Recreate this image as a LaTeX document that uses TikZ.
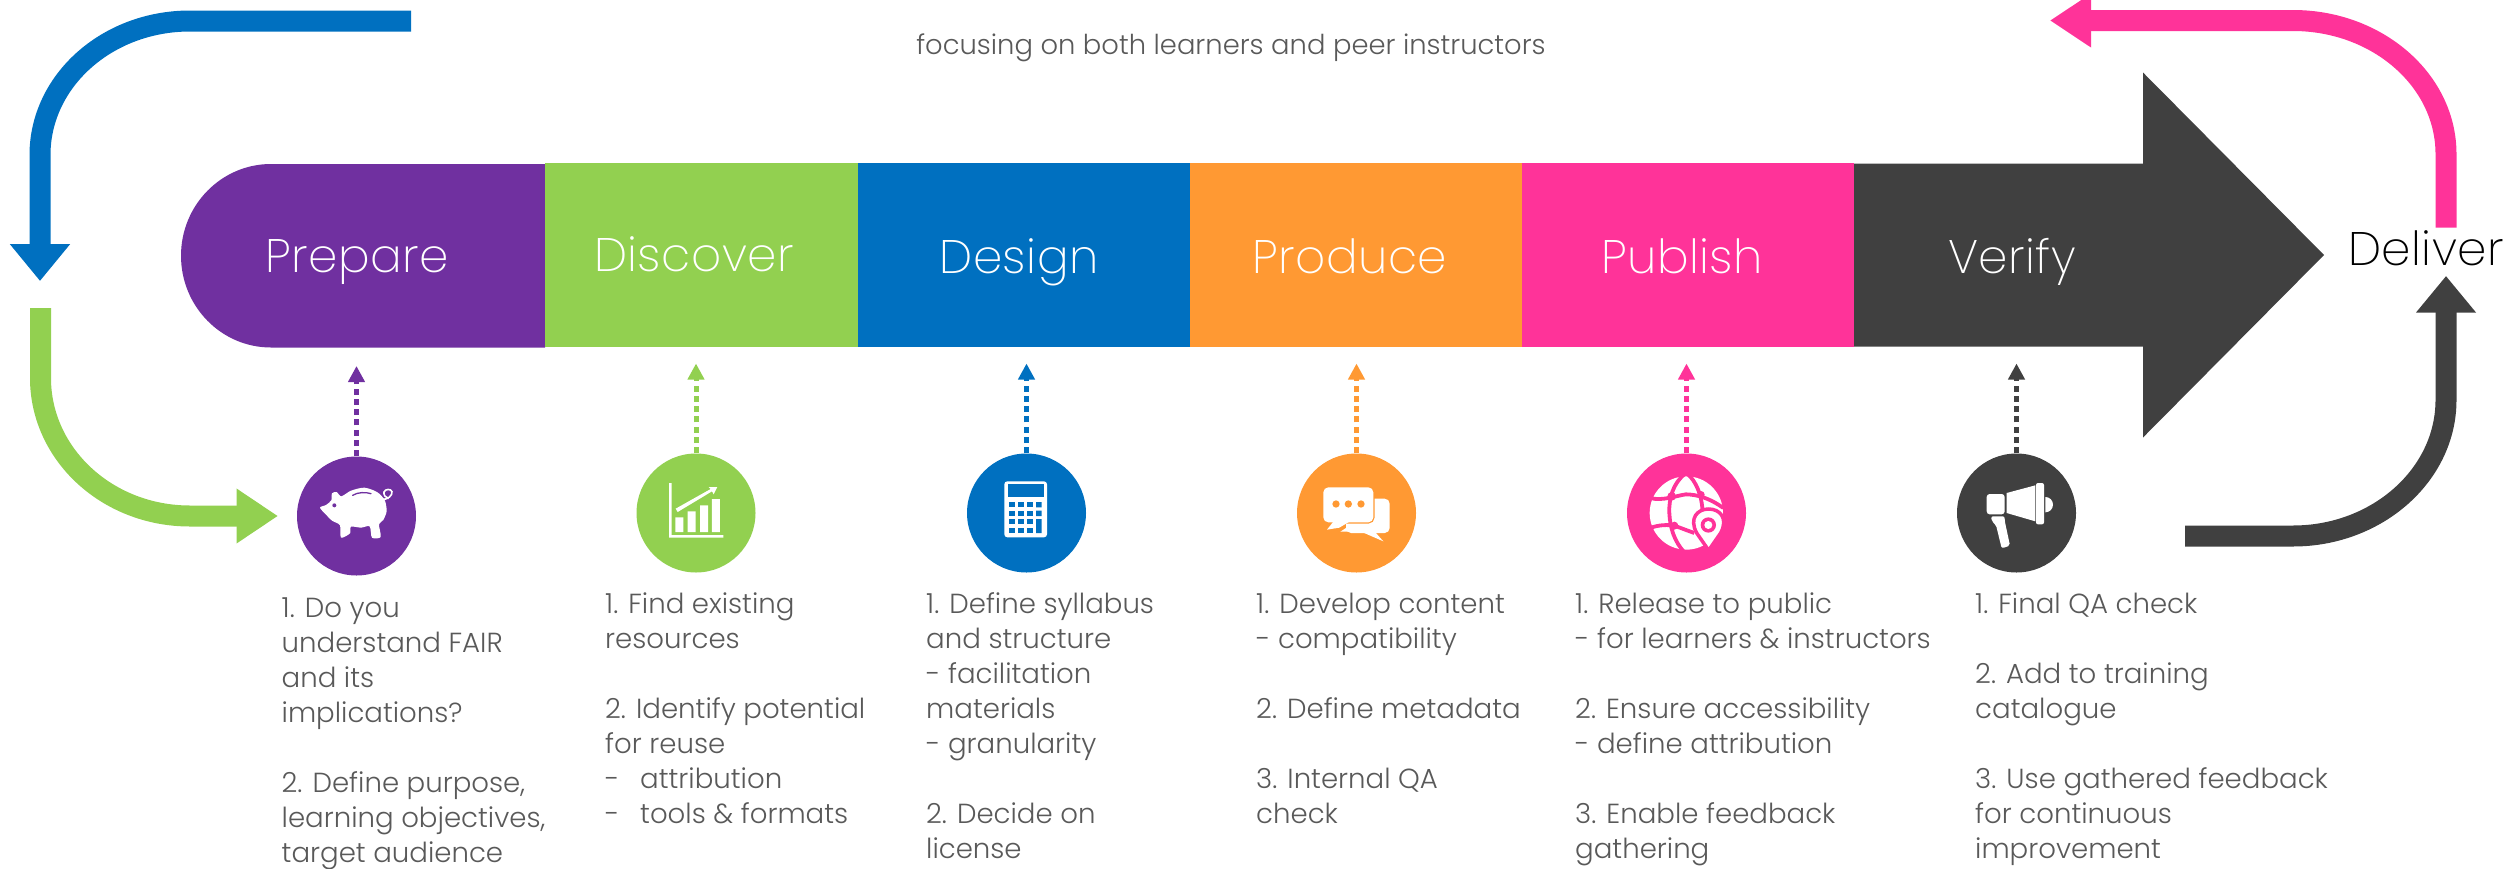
\documentclass[tikz,border=0pt]{standalone}
\usepackage{fontspec}
\setmainfont{Poppins Light}
\newfontfamily\labfont[LetterSpace=1]{Poppins ExtraLight}
\usetikzlibrary{arrows.meta}
\definecolor{cPurple}{HTML}{7030A0}
\definecolor{cGreen}{HTML}{92D050}
\definecolor{cBlue}{HTML}{0070C0}
\definecolor{cOrange}{HTML}{FF9933}
\definecolor{cPink}{HTML}{FF3399}
\definecolor{cDark}{HTML}{404040}
\definecolor{cText}{HTML}{595959}
\tikzset{
  seg/.style={rectangle,inner sep=0pt,minimum height=184pt,anchor=west},
  lab/.style={anchor=base,inner sep=0pt,text=white,font=\fontsize{47}{50}\labfont},
  disc/.style={circle,inner sep=0pt,minimum size=119pt},
  dotarrow/.style={line width=5pt,dash pattern=on 6pt off 4.3pt,-{Triangle[length=16pt,width=16pt]}},
  bigarrow/.style={line width=21pt},
  body/.style={anchor=base west,inner sep=0pt,text=cText},
  zoomed/.style={x=0.3333pt,y=-0.3333pt},
}
\newcommand{\bodytext}[1]{\parbox[t]{420pt}{\fontsize{27.6}{35.1}\selectfont\raggedright\strut #1}}
\newcommand{\gap}{\\[35.1pt]}
\begin{document}
\begin{tikzpicture}[x=1pt,y=-1pt]
\useasboundingbox (0,0) rectangle (2512,868);
% band
\fill[cPurple] (545,164) -- (271,164) arc[start angle=90,end angle=270,x radius=90,y radius=-91.75] -- (545,347.5) -- cycle;
\node[seg,fill=cGreen]  (sDiscover) at (545,255) [minimum width=313pt] {};
\node[seg,fill=cBlue]   (sDesign)   at (858,255) [minimum width=332pt] {};
\node[seg,fill=cOrange] (sProduce)  at (1190,255) [minimum width=332pt] {};
\node[seg,fill=cPink]   (sPublish)  at (1522,255) [minimum width=332pt] {};
\fill[cDark] (1854,163.5) -- (2143,163.5) -- (2143,72.5) -- (2324,255) -- (2143,437.5) -- (2143,346.5) -- (1854,346.5) -- cycle;
\node[lab] (lPrepare) at (357,272) {Prepare};
\node[lab] (lDiscover) at (694,271) {Discover};
\node[lab] (lDesign) at (1019,273) {Design};
\node[lab] (lProduce) at (1350,273) {Produce};
\node[lab] (lPublish) at (1682,273) {Publish};
\node[lab] (lVerify) at (2012,273) {Verify};
\node[lab,text=black] (lDeliver) at (2426,265) {Deliver};
\node[anchor=base,inner sep=0pt,text=cText,font=\fontsize{27.4}{30}\selectfont] (lTop) at (1231,54) {focusing on both learners and peer instructors};
% cycle arrows
\coordinate (bS) at (411,21); \coordinate (b1) at (190,21); \coordinate (b2) at (40,155); \coordinate (bE) at (40,281);
\draw[cBlue,bigarrow,-{Triangle[length=37pt,width=58pt]}] (bS) -- (b1) .. controls (107,21) and (40,81) .. (b2) -- (bE);
\coordinate (gS) at (40.5,308); \coordinate (g1) at (40.5,378); \coordinate (g2) at (190,516); \coordinate (gE) at (278,516);
\draw[cGreen,bigarrow,-{Triangle[length=41.5pt,width=52pt]}] (gS) -- (g1) .. controls (40.5,454) and (107,516) .. (g2) -- (gE);
\coordinate (pS) at (2446,227.5); \coordinate (p1) at (2446,154); \coordinate (p2) at (2293,20.5); \coordinate (pE) at (2050,20.5);
\draw[cPink,bigarrow,-{Triangle[length=41pt,width=51pt]}] (pS) -- (p1) .. controls (2446,80) and (2377,20.5) .. (p2) -- (pE);
\coordinate (dS) at (2185,536); \coordinate (d1) at (2293,536); \coordinate (d2) at (2446,400); \coordinate (dE) at (2446,276);
\draw[cDark,bigarrow,-{Triangle[length=36.5pt,width=57.5pt]}] (dS) -- (d1) .. controls (2377,536) and (2446,475) .. (d2) -- (dE);
% discs
\node[disc,fill=cPurple] (c1) at (356.5,516) {};
\node[disc,fill=cGreen]  (c2) at (696,513) {};
\node[disc,fill=cBlue]   (c3) at (1026.5,513) {};
\node[disc,fill=cOrange] (c4) at (1356.5,513) {};
\node[disc,fill=cPink]   (c5) at (1686.5,513) {};
\node[disc,fill=cDark]   (c6) at (2016.5,513) {};
% dotted
\coordinate (t1) at (356.5,366); \coordinate (t2) at (696,363.5); \coordinate (t3) at (1026.5,363.5);
\coordinate (t4) at (1356.5,363.5); \coordinate (t5) at (1686.5,363.5); \coordinate (t6) at (2016.5,363.5);
\draw[dotarrow,cPurple] (c1.north) -- (t1);
\draw[dotarrow,cGreen]  (c2.north) -- (t2);
\draw[dotarrow,cBlue]   (c3.north) -- (t3);
\draw[dotarrow,cOrange] (c4.north) -- (t4);
\draw[dotarrow,cPink]   (c5.north) -- (t5);
\draw[dotarrow,cDark]   (c6.north) -- (t6);
% pig
\begin{scope}[shift={(296,456)},zoomed]
\fill[white] plot[smooth cycle,tension=.45] coordinates {(72,155) (90,147) (106,133) (108,112) (122,108) (136,121) (165,104) (205,95) (243,108) (266,132) (272,165) (262,192) (249,205) (254,243) (228,245) (221,211) (195,215) (165,212) (162,232) (135,245) (132,208) (108,194) (92,178)};
\draw[cPurple,line width=1.3pt,line cap=round] (170,118) .. controls (185,108) and (210,108) .. (225,113);
\fill[cPurple] (115,148) circle[radius=6];
\draw[white,line width=1.6pt] (258,130) .. controls (275,132) and (290,118) .. (288,107) .. controls (285,98) and (268,98) .. (264,108) .. controls (262,118) and (270,125) .. (278,128);
\end{scope}
% chart
\begin{scope}[shift={(636,453)},zoomed]
\fill[white] (99,90) rectangle (107,254) (99,246) rectangle (262,254);
\fill[white] (118,193) rectangle (142,237) (155,175) rectangle (179,237) (192,157) rectangle (216,237) (228,138) rectangle (252,237);
\fill[white] (119,167) -- (224,108) -- (218,102) -- (244,102) -- (233,124) -- (228,115) -- (125,177) -- cycle;
\end{scope}
% calculator
\begin{scope}[shift={(966,453)},zoomed]
\fill[white,rounded corners=3pt] (115,85) rectangle (243,253);
\fill[cBlue] (126,93) rectangle (233,131);
\foreach \xa in {129,156,183}{\foreach \ya in {147,173,198,224}{\fill[cBlue] (\xa,\ya) rectangle ++(17,16);}}
\fill[cBlue] (210,147) rectangle ++(17,16) (210,173) rectangle ++(17,16) (210,198) rectangle (227,240);
\end{scope}
% chat
\begin{scope}[shift={(1296,453)},zoomed]
\fill[white,rounded corners=5pt] (150,137) rectangle (281,240);
\fill[white] (133,236) -- (170,212) -- (240,236) -- cycle;
\fill[white] (200,238) -- (262,265) -- (238,238) -- cycle;
\fill[white,draw=cOrange,line width=2.5pt,rounded corners=5pt] (82,103) rectangle (232,208);
\fill[white] (112,206) -- (93,230) -- (130,224) -- (162,205) -- cycle;
\fill[white,rounded corners=5pt] (82,103) rectangle (232,208);
\foreach \xa in {120,157,195}{\fill[cOrange] (\xa,153) circle[radius=11];}
\end{scope}
% globe
\begin{scope}[shift={(1626,453)},zoomed]
\fill[white] (181,180) circle[radius=110];
\begin{scope}[cPink,line width=3.8pt]
\draw (178,62) .. controls (140,90) and (128,140) .. (130,180) .. controls (132,225) and (145,265) .. (175,298);
\draw (184,62) .. controls (210,85) and (228,125) .. (230,180);
\draw (72,135) .. controls (110,145) and (150,128) .. (180,124) .. controls (215,125) and (250,135) .. (292,165);
\draw (72,225) .. controls (100,215) and (125,215) .. (145,218) .. controls (165,225) and (190,235) .. (205,240);
\end{scope}
\fill[cPink] (137,130) circle[radius=13] (225,125) circle[radius=11] (145,218) circle[radius=12];
\fill[white,draw=cPink,line width=3.5pt] (248,292) -- (212,240) .. controls (188,195) and (215,168) .. (248,168) .. controls (281,168) and (308,195) .. (284,240) -- cycle;
\fill[cPink] (247,216) circle[radius=23];
\fill[white] (247,216) circle[radius=12];
\end{scope}
% megaphone
\begin{scope}[shift={(1956,453)},zoomed]
\fill[white,rounded corners=3pt] (92,123) rectangle (146,184);
\fill[white] (152,120) -- (238,97) -- (238,205) -- (152,180) -- cycle;
\fill[white,rounded corners=2pt] (240,90) rectangle (264,214);
\fill[white] (268,132) arc[start angle=90,end angle=-90,x radius=23,y radius=-23] -- cycle;
\fill[white,rounded corners=2pt] (105,190) -- (146,190) -- (146,203) -- (162,278) -- (137,286) -- (120,216) -- (108,206) -- cycle;
\end{scope}
% texts
\node[body] (x1) at (281.5,617) {\bodytext{1. Do you\\understand FAIR\\and its\\implications?\gap 2. Define purpose,\\learning objectives,\\target audience}};
\node[body] (x2) at (605,613) {\bodytext{1. Find existing\\resources\gap 2. Identify potential\\for reuse\\\makebox[35pt][l]{-}attribution\\\makebox[35pt][l]{-}tools \& formats}};
\node[body] (x3) at (926,613) {\bodytext{1. Define syllabus\\and structure\\- facilitation\\materials\\- granularity\gap 2. Decide on\\license}};
\node[body] (x4) at (1256,613) {\bodytext{1. Develop content\\- compatibility\gap 2. Define metadata\gap 3. Internal QA\\check}};
\node[body] (x5) at (1575,613) {\bodytext{1. Release to public\\- for learners \& instructors\gap 2. Ensure accessibility\\- define attribution\gap 3. Enable feedback\\gathering}};
\node[body] (x6) at (1975,613) {\bodytext{1. Final QA check\gap 2. Add to training\\catalogue\gap 3. Use gathered feedback\\for continuous\\improvement}};
\end{tikzpicture}
\end{document}
